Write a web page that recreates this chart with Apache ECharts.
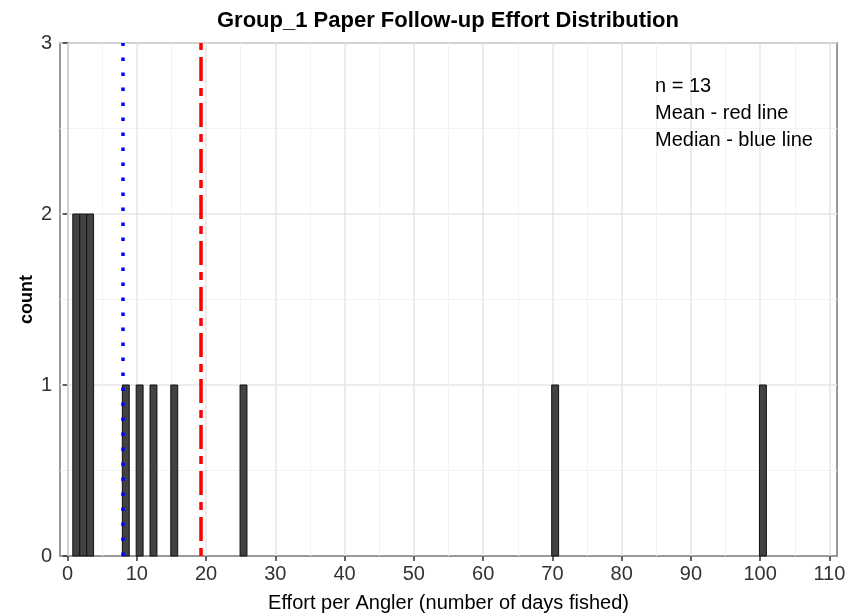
<!DOCTYPE html>
<html>
<head>
<meta charset="utf-8">
<script src="https://cdn.jsdelivr.net/npm/echarts@6/dist/echarts.min.js"></script>
<style>html,body{margin:0;padding:0;background:#fff}#c{width:857px;height:614px}</style>
</head>
<body>
<div id="c"></div>
<script>
const titleText = 'Group_1 Paper Follow-up Effort Distribution';
const xAxisTitle = 'Effort per Angler (number of days fished)';
const yAxisTitle = 'count';
const xTicks = [0, 10, 20, 30, 40, 50, 60, 70, 80, 90, 100, 110];
const xMinorGrid = [5, 15, 25, 35, 45, 55, 65, 75, 85, 95, 105];
const binLeft = [0.75, 1.75, 2.75, 7.9, 9.9, 11.9, 14.9, 24.9, 69.9, 99.9];
const binCount = [2, 2, 2, 1, 1, 1, 1, 1, 1, 1];
const binWidth = 1;
const meanValue = 19.2;
const medianValue = 7.9;
const notes = ['n = 13', 'Mean - red line', 'Median - blue line'];

const FONT = '"Liberation Sans", Arial, sans-serif';
const chart = echarts.init(document.getElementById('c'));
const barData = binLeft.map((l, i) => [l, l + binWidth, binCount[i]]);

chart.setOption({
  animation: false,
  backgroundColor: '#fff',
  title: {
    text: titleText, left: 443, top: 5, textAlign: 'center',
    textStyle: { fontFamily: FONT, fontWeight: 'bold', fontSize: 22, color: '#000' }
  },
  grid: { left: 60, right: 20, top: 43, bottom: 58, show: true, borderColor: '#999', borderWidth: 2, outerBoundsMode: 'none' },
  xAxis: {
    type: 'value', min: -1.1, max: 111.1,
    name: xAxisTitle, nameLocation: 'middle', nameGap: 37,
    nameTextStyle: { fontFamily: FONT, fontSize: 20, color: '#000' },
    axisLine: { show: true, lineStyle: { color: '#999', width: 2 } },
    axisTick: { show: true, customValues: xTicks, length: 5, lineStyle: { color: '#333', width: 1.5 } },
    axisLabel: { customValues: xTicks, fontFamily: FONT, fontSize: 20, color: '#333', margin: 8 },
    splitLine: { show: false }
  },
  yAxis: {
    type: 'value', min: 0, max: 3, interval: 1,
    name: yAxisTitle, nameLocation: 'middle', nameGap: 24, nameRotate: 90, nameMoveOverlap: false,
    nameTextStyle: { fontFamily: FONT, fontSize: 18, fontWeight: 'bold', color: '#000' },
    axisLine: { show: true, lineStyle: { color: '#999', width: 2 } },
    axisTick: { show: true, length: 5, lineStyle: { color: '#333', width: 1.5 } },
    axisLabel: { fontFamily: FONT, fontSize: 20, color: '#333', margin: 8 },
    splitLine: { show: true, lineStyle: { color: '#e6e6e6', width: 1.5 } },
    minorTick: { show: false, splitNumber: 2 },
    minorSplitLine: { show: true, lineStyle: { color: '#f3f3f3', width: 1 } }
  },
  series: [
    {
      type: 'line', data: [], z: 1, silent: true,
      markLine: {
        z: 1, silent: true, symbol: 'none', label: { show: false }, animation: false,
        data: [
          ...xTicks.map(v => ({ xAxis: v, lineStyle: { color: '#e6e6e6', width: 1.5, type: 'solid' } })),
          ...xMinorGrid.map(v => ({ xAxis: v, lineStyle: { color: '#f3f3f3', width: 1, type: 'solid' } }))
        ]
      }
    },
    {
      type: 'custom', z: 3, data: barData,
      encode: { x: [0, 1], y: 2 },
      renderItem: function (params, api) {
        const p0 = api.coord([api.value(0), api.value(2)]);
        const p1 = api.coord([api.value(1), 0]);
        return {
          type: 'rect',
          shape: { x: p0[0], y: p0[1], width: p1[0] - p0[0], height: p1[1] - p0[1] },
          style: { fill: '#424242', stroke: '#111', lineWidth: 1 }
        };
      }
    },
    {
      type: 'line', data: [], z: 6, silent: true,
      markLine: {
        z: 6, silent: true, symbol: 'none', label: { show: false }, animation: false,
        data: [
          { xAxis: medianValue, lineStyle: { color: '#0000ff', width: 3.5, type: [3.5, 11.5], cap: 'butt' } },
          { xAxis: meanValue, lineStyle: { color: '#ff0000', width: 3.5, type: [8, 7, 24, 7], cap: 'butt' } }
        ]
      }
    }
  ],
  graphic: [
    {
      type: 'text', left: 655, top: 73, z: 100, silent: true,
      style: { text: notes.join('\n'), fontFamily: FONT, fontSize: 20, lineHeight: 27, fill: '#000' }
    }
  ]
});
</script>
</body>
</html>
